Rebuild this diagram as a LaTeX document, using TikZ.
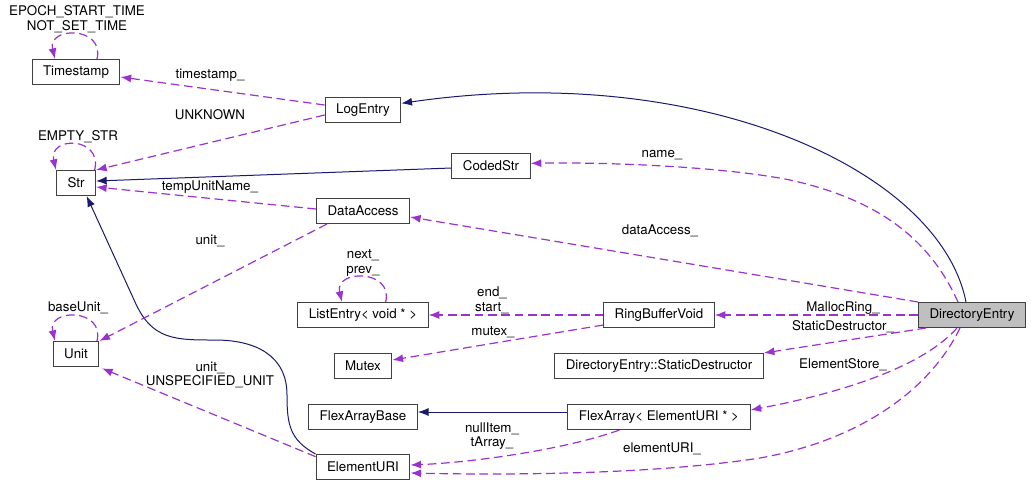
\documentclass[tikz,border=0pt]{standalone}
\usepackage{fontspec}
\setmainfont{TeX Gyre Heros}
\usepackage{tikz}
\usetikzlibrary{arrows.meta}
\definecolor{EdgeNavy}{HTML}{191970}
\definecolor{EdgePurple}{HTML}{9A32CD}
\definecolor{BoxGray}{HTML}{BFBFBF}
\definecolor{BoxLine}{HTML}{404040}

\begin{document}
\begin{tikzpicture}[x=0.75pt, y=-0.75pt,
    font=\fontsize{10}{11}\selectfont,
    cls/.style={draw=BoxLine, line width=0.75pt, fill=white, minimum height=18.75pt, inner xsep=8.25pt, inner ysep=2pt},
    inh/.style={-{Latex[length=8pt, width=6pt]}, EdgeNavy, line width=0.75pt},
    usg/.style={-{Latex[length=8pt, width=6pt]}, EdgePurple, line width=0.9pt, dash pattern=on 6.5pt off 3.5pt},
    lbl/.style={align=center, inner sep=0pt}]
        \useasboundingbox (0,0) rectangle (1031,487);

        % Classes
        \node[cls] (ts) at (76,72) {Timestamp};
        \node[cls] (str) at (76,183) {Str};
        \node[cls] (unit) at (76,354) {Unit};
        \node[cls] (le) at (363,110) {LogEntry};
        \node[cls] (da) at (363,211) {DataAccess};
        \node[cls] (lst) at (363,315) {ListEntry< void * >};
        \node[cls] (mtx) at (363,366) {Mutex};
        \node[cls] (fab) at (363,417) {FlexArrayBase};
        \node[cls] (eu) at (363,467) {ElementURI};
        \node[cls] (cs) at (491,166) {CodedStr};
        \node[cls] (rbv) at (659,315) {RingBufferVoid};
        \node[cls] (sd) at (659,366) {DirectoryEntry::StaticDestructor};
        \node[cls] (fa) at (659,417) {FlexArray< ElementURI * >};
        \node[cls, fill=BoxGray] (de) at (972,315) {DirectoryEntry};

        % Inheritance
        \draw[inh] ([xshift=-4.5pt]de.north) .. controls (940,170) and (700,60) .. ([yshift=5pt]le.east);
        \draw[inh] ([yshift=-1.5pt]cs.west) -- ([yshift=1.5pt]str.east);
        \draw[inh] (eu.north west) .. controls (290,440) and (287,425) .. (287,395)
            .. controls (287,355) and (255,340) .. (215,340)
            .. controls (175,340) and (152,340) .. (135,302) -- ([xshift=8pt]str.south);
        \draw[inh] ([yshift=3.75pt]fa.west) -- ([yshift=3.75pt]fab.east);

        % Members
        \draw[usg] ([xshift=15.75pt]ts.north) .. controls +(8,-33) and +(-8,-33) .. ([xshift=-15.75pt]ts.north);
        \draw[usg] ([xshift=14pt]str.north) .. controls +(8,-34) and +(-8,-34) .. ([xshift=-15pt]str.north);
        \draw[usg] ([xshift=15.75pt]unit.north) .. controls +(8,-33) and +(-8,-33) .. ([xshift=-15.75pt]unit.north);
        \draw[usg] ([xshift=17pt]lst.north) .. controls +(8,-33) and +(-8,-33) .. ([xshift=-15.75pt]lst.north);
        \draw[usg] ([yshift=3.75pt]le.west) -- ([yshift=-3.75pt]ts.east);
        \draw[usg] ([yshift=-3.75pt]le.west) -- (str.north east);
        \draw[usg] ([yshift=1.5pt]da.west) -- ([yshift=-3pt]str.east);
        \draw[usg] ([xshift=8.25pt]da.south west) -- (unit.north east);
        \draw[usg] ([yshift=-2pt]eu.north west) -- ([xshift=2pt,yshift=-1pt]unit.south east);
        \draw[usg] ([xshift=-10.5pt]de.north) .. controls (930,240) and (880,200) .. (790,180)
            .. controls (720,166) and (600,162) .. ([yshift=2pt]cs.east);
        \draw[usg] (de.north west) -- ([yshift=-4.5pt]da.east);
        \draw[usg] (de.west) -- (rbv.east);
        \draw[usg] ([xshift=6pt]de.south west) -- (sd.north east);
        \draw[usg] ([xshift=-11.25pt]de.south) .. controls (920,370) and (830,395) .. ([yshift=5.25pt]fa.east);
        \draw[usg] ([xshift=-9pt]de.south) .. controls (930,390) and (860,440) .. (760,458)
            .. controls (650,475) and (500,475) .. ([yshift=-4.5pt]eu.east);
        \draw[usg] (rbv.west) -- (lst.east);
        \draw[usg] ([yshift=-7.5pt]rbv.west) -- ([yshift=4.5pt]mtx.east);
        \draw[usg] ([xshift=39pt]fa.south west) .. controls (570,448) and (480,462) .. ([yshift=1.5pt]eu.east);

        % Member names
        \node[lbl] (l-ts) at (77,19) {EPOCH\_START\_TIME\\NOT\_SET\_TIME};
        \node[lbl] (l-str) at (78,137) {EMPTY\_STR};
        \node[lbl] (l-unit) at (78,308) {baseUnit\_};
        \node[lbl] (l-lst) at (363,263) {next\_\\prev\_};
        \node[lbl] (l-tsm) at (210,75) {timestamp\_};
        \node[lbl] (l-unk) at (210,115) {UNKNOWN};
        \node[lbl] (l-tun) at (210,187) {tempUnitName\_};
        \node[lbl] (l-dau) at (210,241) {unit\_};
        \node[lbl] (l-euu) at (210,375) {unit\_\\UNSPECIFIED\_UNIT};
        \node[lbl] (l-name) at (662,155) {name\_};
        \node[lbl] (l-da) at (660,231) {dataAccess\_};
        \node[lbl] (l-es) at (492,300) {end\_\\start\_};
        \node[lbl] (l-mtx) at (493,332) {mutex\_};
        \node[lbl] (l-mr) at (843,308) {MallocRing\_};
        \node[lbl] (l-sd) at (843,327) {StaticDestructor\_};
        \node[lbl] (l-est) at (843,365) {ElementStore\_};
        \node[lbl] (l-ni) at (492,436) {nullItem\_\\tArray\_};
        \node[lbl] (l-eu) at (662,449) {elementURI\_};
    \end{tikzpicture}
\end{document}
